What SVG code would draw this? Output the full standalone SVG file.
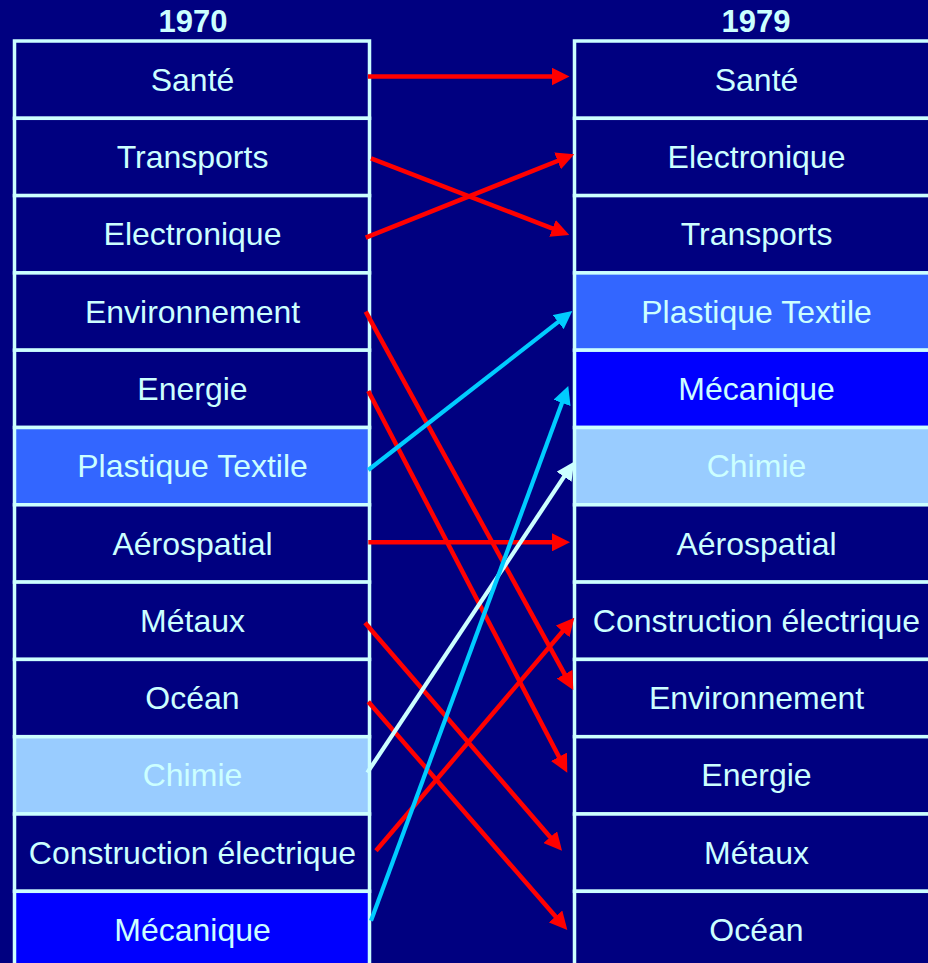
<svg xmlns="http://www.w3.org/2000/svg" width="928" height="963" viewBox="0 0 928 963">
<defs>
<style>
.bg{fill:#000080}
.cell{fill:#000080;stroke:#CCFFFF;stroke-width:3.5}
.pt{fill:#3366FF}
.me{fill:#0000FF}
.ch{fill:#99CCFF}
.t{font-family:"Liberation Sans",Arial,sans-serif;font-size:32px;fill:#CCFFFF;text-anchor:middle}
.h{font-family:"Liberation Sans",Arial,sans-serif;font-size:31px;font-weight:bold;fill:#CCFFFF;text-anchor:middle}
.r{stroke:#FF0000;stroke-width:4.5;fill:none;marker-end:url(#ar)}
.c{stroke:#00CCFF;stroke-width:4.2;fill:none;marker-end:url(#ac)}
.w{stroke:#CCFFFF;stroke-width:4.2;fill:none;marker-end:url(#aw)}
</style>
<marker id="ar" markerUnits="userSpaceOnUse" markerWidth="18" markerHeight="18" refX="12" refY="9" orient="auto"><path d="M0,0 L18,9 L0,18 z" fill="#FF0000"/></marker>
<marker id="ac" markerUnits="userSpaceOnUse" markerWidth="18" markerHeight="18" refX="12" refY="9" orient="auto"><path d="M0,0 L18,9 L0,18 z" fill="#00CCFF"/></marker>
<marker id="aw" markerUnits="userSpaceOnUse" markerWidth="18" markerHeight="18" refX="12" refY="9" orient="auto"><path d="M0,0 L18,9 L0,18 z" fill="#CCFFFF"/></marker>
</defs>
<rect class="bg" x="0" y="0" width="928" height="963"/>
<text class="h" x="193" y="32">1970</text>
<text class="h" x="756" y="32">1979</text>
<g id="left">
<g id="L1"><rect class="cell" x="14.5" y="41" width="355" height="77.3"/><text class="t" x="192.5" y="90.7">Santé</text></g>
<g id="L2"><rect class="cell" x="14.5" y="118.3" width="355" height="77.3"/><text class="t" x="192.5" y="168">Transports</text></g>
<g id="L3"><rect class="cell" x="14.5" y="195.6" width="355" height="77.3"/><text class="t" x="192.5" y="245.3">Electronique</text></g>
<g id="L4"><rect class="cell" x="14.5" y="272.9" width="355" height="77.3"/><text class="t" x="192.5" y="322.6">Environnement</text></g>
<g id="L5"><rect class="cell" x="14.5" y="350.2" width="355" height="77.3"/><text class="t" x="192.5" y="399.9">Energie</text></g>
<g id="L6"><rect class="cell pt" x="14.5" y="427.5" width="355" height="77.3"/><text class="t" x="192.5" y="477.2">Plastique Textile</text></g>
<g id="L7"><rect class="cell" x="14.5" y="504.8" width="355" height="77.3"/><text class="t" x="192.5" y="554.5">Aérospatial</text></g>
<g id="L8"><rect class="cell" x="14.5" y="582.1" width="355" height="77.3"/><text class="t" x="192.5" y="631.8">Métaux</text></g>
<g id="L9"><rect class="cell" x="14.5" y="659.4" width="355" height="77.3"/><text class="t" x="192.5" y="709.1">Océan</text></g>
<g id="L10"><rect class="cell ch" x="14.5" y="736.7" width="355" height="77.3"/><text class="t" x="192.5" y="786.4">Chimie</text></g>
<g id="L11"><rect class="cell" x="14.5" y="814" width="355" height="77.3"/><text class="t" x="192.5" y="863.7">Construction électrique</text></g>
<g id="L12"><rect class="cell me" x="14.5" y="891.3" width="355" height="77.3"/><text class="t" x="192.5" y="941">Mécanique</text></g>
</g>
<g id="right">
<g id="R1"><rect class="cell" x="574.5" y="41" width="366" height="77.3"/><text class="t" x="756.5" y="90.7">Santé</text></g>
<g id="R2"><rect class="cell" x="574.5" y="118.3" width="366" height="77.3"/><text class="t" x="756.5" y="168">Electronique</text></g>
<g id="R3"><rect class="cell" x="574.5" y="195.6" width="366" height="77.3"/><text class="t" x="756.5" y="245.3">Transports</text></g>
<g id="R4"><rect class="cell pt" x="574.5" y="272.9" width="366" height="77.3"/><text class="t" x="756.5" y="322.6">Plastique Textile</text></g>
<g id="R5"><rect class="cell me" x="574.5" y="350.2" width="366" height="77.3"/><text class="t" x="756.5" y="399.9">Mécanique</text></g>
<g id="R6"><rect class="cell ch" x="574.5" y="427.5" width="366" height="77.3"/><text class="t" x="756.5" y="477.2">Chimie</text></g>
<g id="R7"><rect class="cell" x="574.5" y="504.8" width="366" height="77.3"/><text class="t" x="756.5" y="554.5">Aérospatial</text></g>
<g id="R8"><rect class="cell" x="574.5" y="582.1" width="366" height="77.3"/><text class="t" x="756.5" y="631.8">Construction électrique</text></g>
<g id="R9"><rect class="cell" x="574.5" y="659.4" width="366" height="77.3"/><text class="t" x="756.5" y="709.1">Environnement</text></g>
<g id="R10"><rect class="cell" x="574.5" y="736.7" width="366" height="77.3"/><text class="t" x="756.5" y="786.4">Energie</text></g>
<g id="R11"><rect class="cell" x="574.5" y="814" width="366" height="77.3"/><text class="t" x="756.5" y="863.7">Métaux</text></g>
<g id="R12"><rect class="cell" x="574.5" y="891.3" width="366" height="77.3"/><text class="t" x="756.5" y="941">Océan</text></g>
</g>
<g id="connectors">
<line class="r" x1="368" y1="76.5" x2="563.5" y2="76.5"/>
<line class="r" x1="371" y1="158.3" x2="563.7" y2="232.8"/>
<line class="r" x1="365.7" y1="237.7" x2="568.7" y2="156.5"/>
<line class="r" x1="365.7" y1="311.7" x2="570.4" y2="684.7"/>
<line class="r" x1="368.3" y1="391" x2="564.5" y2="767.4"/>
<line class="c" x1="368.3" y1="470" x2="567.6" y2="314.7"/>
<line class="r" x1="368.3" y1="542.3" x2="564" y2="542.3"/>
<line class="r" x1="365" y1="622.7" x2="558.1" y2="846.2"/>
<line class="r" x1="368.3" y1="701.7" x2="563.4" y2="925.5"/>
<line class="w" x1="367.3" y1="772.7" x2="570.7" y2="466.7"/>
<line class="r" x1="376" y1="850.7" x2="570.4" y2="622.3"/>
<line class="c" x1="371" y1="920.7" x2="566.2" y2="391.6"/>
</g>
</svg>
